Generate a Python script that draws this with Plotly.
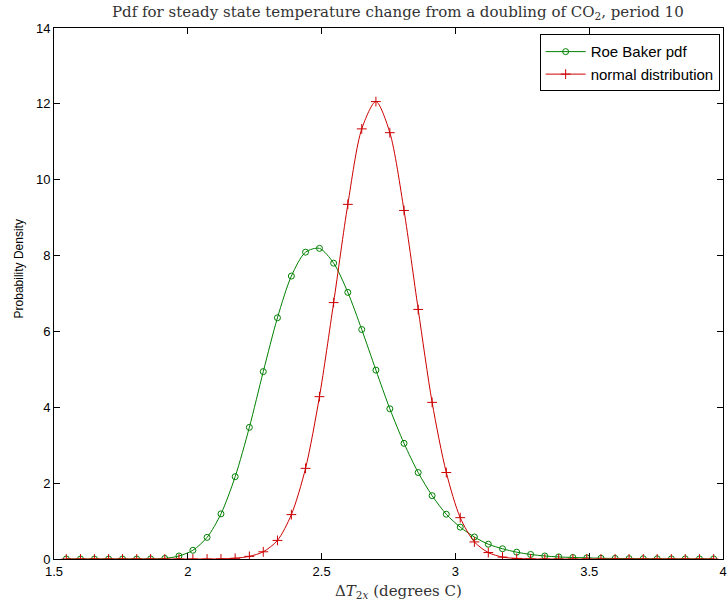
import plotly.graph_objects as go

# Temperature change grid (degrees C) at marker positions
dT = [1.546, 1.599, 1.651, 1.704, 1.756, 1.809, 1.861, 1.914, 1.967, 2.019,
      2.072, 2.124, 2.177, 2.230, 2.282, 2.335, 2.387, 2.440, 2.492, 2.545,
      2.598, 2.650, 2.703, 2.755, 2.808, 2.861, 2.913, 2.966, 3.018, 3.071,
      3.123, 3.176, 3.229, 3.281, 3.334, 3.386, 3.439, 3.491, 3.544, 3.597,
      3.649, 3.702, 3.754, 3.807, 3.859, 3.912, 3.965]

roe_baker = [0, 0, 0, 0, 0, 0, 0.002, 0.015, 0.08, 0.23,
             0.57, 1.19, 2.17, 3.47, 4.94, 6.36, 7.46, 8.09, 8.19, 7.80,
             7.03, 6.05, 4.98, 3.96, 3.05, 2.28, 1.67, 1.18, 0.84, 0.58,
             0.39, 0.27, 0.18, 0.12, 0.08, 0.055, 0.04, 0.03, 0.02, 0.015,
             0.01, 0.008, 0.006, 0.004, 0.003, 0.002, 0.002]

normal = [0, 0, 0, 0, 0, 0, 0, 0, 0, 0,
          0, 0.003, 0.02, 0.07, 0.19, 0.49, 1.17, 2.39, 4.28, 6.76,
          9.35, 11.34, 12.06, 11.24, 9.19, 6.58, 4.13, 2.28, 1.09, 0.45,
          0.17, 0.05, 0.015, 0.003, 0, 0, 0, 0, 0, 0,
          0, 0, 0, 0, 0, 0, 0]

x_ticks = [1.5, 2, 2.5, 3, 3.5, 4]
x_tick_labels = ["1.5", "2", "2.5", "3", "3.5", "4"]
y_ticks = [0, 2, 4, 6, 8, 10, 12, 14]

GREEN = "#008000"
RED = "#cc0000"

fig = go.Figure()
fig.add_trace(go.Scatter(
    x=dT, y=roe_baker, name="Roe Baker pdf", mode="lines+markers",
    line=dict(color=GREEN, width=1, shape="spline", smoothing=0.8),
    marker=dict(symbol="circle-open", size=6, color=GREEN, line=dict(width=1, color=GREEN)),
))
fig.add_trace(go.Scatter(
    x=dT, y=normal, name="normal distribution", mode="lines+markers",
    line=dict(color=RED, width=1, shape="spline", smoothing=0.8),
    marker=dict(symbol="cross-thin-open", size=7, color=RED, line=dict(width=1, color=RED)),
))

axis_font = dict(family="Liberation Sans, Arial, sans-serif", size=13, color="black")
serif_font = dict(family="DejaVu Serif, serif", size=15, color="#333")

fig.update_layout(
    width=727, height=606,
    margin=dict(l=54, r=0, t=28, b=47),
    paper_bgcolor="white", plot_bgcolor="white",
    title=dict(
        text="Pdf for steady state temperature change from a doubling of CO<sub>2</sub>, period 10",
        x=0.514, xref="paper", xanchor="center",
        y=1 - 12 / 606, yref="container", yanchor="middle",
        font=serif_font,
    ),
    xaxis=dict(
        range=[1.5, 4], tickvals=x_ticks, ticktext=x_tick_labels,
        ticks="inside", ticklen=6, tickcolor="black", tickwidth=1,
        showline=True, linecolor="black", linewidth=1, mirror="ticks",
        showgrid=False, zeroline=False, tickfont=axis_font,
        ticklabeloverflow="allow",
    ),
    yaxis=dict(
        range=[0, 14], tickvals=y_ticks,
        ticks="inside", ticklen=6, tickcolor="black", tickwidth=1,
        showline=True, linecolor="black", linewidth=1, mirror="ticks",
        showgrid=False, zeroline=False, tickfont=axis_font,
    ),
    legend=dict(
        x=0.995, y=0.988, xanchor="right", yanchor="top",
        bgcolor="white", bordercolor="black", borderwidth=1,
        font=dict(family="Liberation Sans, Arial, sans-serif", size=15, color="black"),
        tracegroupgap=0, itemwidth=40,
    ),
    showlegend=True,
    annotations=[
        dict(text="Δ<i>T</i><sub>2<i>x</i></sub> (degrees C)", xref="paper", yref="paper",
             x=0.515, y=0, yshift=-32, xanchor="center", yanchor="middle", showarrow=False,
             font=serif_font),
        dict(text="Probability Density", xref="paper", yref="paper",
             x=-0.0525, y=0.547, textangle=-90, xanchor="center", yanchor="middle",
             showarrow=False,
             font=dict(family="Liberation Sans, Arial, sans-serif", size=12, color="black")),
    ],
)

fig.write_html("out.html")
